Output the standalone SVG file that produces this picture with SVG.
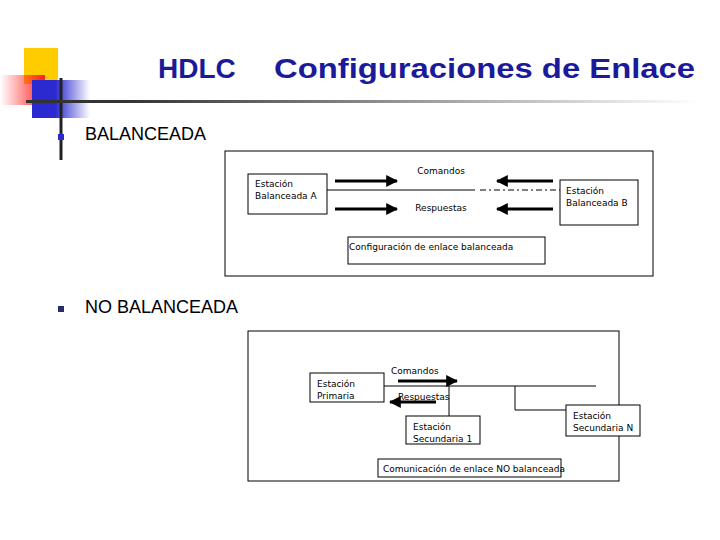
<svg xmlns="http://www.w3.org/2000/svg" width="720" height="540" viewBox="0 0 720 540">
<defs>
<linearGradient id="gr" x1="0" x2="1"><stop offset="0" stop-color="#ff3030" stop-opacity="0"/><stop offset="1" stop-color="#ff2020"/></linearGradient>
<linearGradient id="gb" x1="0" x2="1"><stop offset="0.4" stop-color="#2a2ad0"/><stop offset="1" stop-color="#2a2ad0" stop-opacity="0"/></linearGradient>
<linearGradient id="gl" x1="0" x2="1"><stop offset="0" stop-color="#333"/><stop offset="0.15" stop-color="#333"/><stop offset="1" stop-color="#333" stop-opacity="0"/></linearGradient>
<marker id="ah" viewBox="0 0 10 10" refX="9" refY="5" markerWidth="4" markerHeight="4" orient="auto"><path d="M0,0L10,5L0,10z" fill="#000"/></marker>
<style>
.t{font-family:"DejaVu Sans",sans-serif;font-size:9px;fill:#000}
.b{fill:#fff;stroke:#000;stroke-width:1}
.a{stroke:#000;stroke-width:3;marker-end:url(#ah)}
.l{stroke:#000;stroke-width:1}
.big{font-family:"Liberation Sans",Arial,sans-serif;font-size:18px;fill:#000}
</style>
</defs>
<rect width="720" height="540" fill="#fff"/>
<g id="decor">
<rect x="24" y="48" width="34" height="36" fill="#ffcc00"/>
<rect x="0" y="75" width="45" height="30" fill="url(#gr)"/>
<rect x="32" y="80" width="58" height="38" fill="url(#gb)"/>
<line x1="61" y1="78" x2="61" y2="160" stroke="#222" stroke-width="3"/>
<rect x="26" y="100" width="670" height="3" fill="url(#gl)"/>
<rect x="58" y="134" width="6" height="6" fill="#2a2ad0"/>
<rect x="58" y="306" width="6" height="6" fill="#2a2a70"/>
</g>
<text x="158" y="78" font-family="Liberation Sans,Arial,sans-serif" font-size="28" font-weight="bold" fill="#1a1a9a">HDLC</text>
<text x="274" y="78" font-family="Liberation Sans,Arial,sans-serif" font-size="28" font-weight="bold" fill="#1a1a9a" textLength="421" lengthAdjust="spacingAndGlyphs">Configuraciones de Enlace</text>
<text x="85" y="140" class="big">BALANCEADA</text>
<text x="85" y="313" class="big">NO BALANCEADA</text>
<rect x="225" y="151" width="428" height="125" class="b"/>
<rect x="248" y="331" width="371" height="150" class="b"/>
<g id="connectors">
<line x1="327" y1="190" x2="475" y2="190" class="l"/>
<line x1="480" y1="190" x2="560" y2="190" class="l" stroke-dasharray="6,3,2,3"/>
<line x1="335" y1="181" x2="397" y2="181" class="a"/>
<line x1="335" y1="209" x2="397" y2="209" class="a"/>
<line x1="553" y1="181" x2="497" y2="181" class="a"/>
<line x1="553" y1="209" x2="497" y2="209" class="a"/>
<line x1="384" y1="386" x2="596" y2="386" class="l"/>
<line x1="398" y1="381" x2="457" y2="381" class="a"/>
<line x1="436" y1="402" x2="390" y2="402" class="a"/>
<line x1="449" y1="386" x2="449" y2="416" class="l"/>
<line x1="515" y1="386" x2="515" y2="410" class="l"/>
<line x1="515" y1="410" x2="566" y2="410" class="l"/>
</g>
<text x="441" y="174" class="t" text-anchor="middle">Comandos</text>
<text x="441" y="211" class="t" text-anchor="middle" font-size="11">Respuestas</text>
<g id="nodeA"><rect x="248" y="174" width="79" height="40" class="b"/><text x="255" y="187" class="t">Estación</text><text x="255" y="199" class="t">Balanceada A</text></g>
<g id="nodeB"><rect x="560" y="180" width="78" height="45" class="b"/><text x="566" y="194" class="t">Estación</text><text x="566" y="206" class="t">Balanceada B</text></g>
<g id="cfg"><rect x="348" y="237" width="197" height="27" class="b"/><text x="349" y="250" class="t">Configuración de enlace  balanceada</text></g>
<text x="391" y="374" class="t">Comandos</text>
<text x="398" y="400" class="t">Respuestas</text>
<g id="prim"><rect x="310" y="373" width="74" height="29" class="b"/><text x="317" y="387" class="t">Estación</text><text x="317" y="399" class="t">Primaria</text></g>
<g id="sec1"><rect x="406" y="416" width="74" height="28" class="b"/><text x="413" y="430" class="t">Estación</text><text x="413" y="442" class="t">Secundaria 1</text></g>
<g id="secN"><rect x="566" y="405" width="74" height="31" class="b"/><text x="573" y="419" class="t">Estación</text><text x="573" y="431" class="t">Secundaria N</text></g>
<g id="com"><rect x="378" y="459" width="183" height="18" class="b"/><text x="383" y="472" class="t">Comunicación de enlace NO balanceada</text></g>
</svg>
